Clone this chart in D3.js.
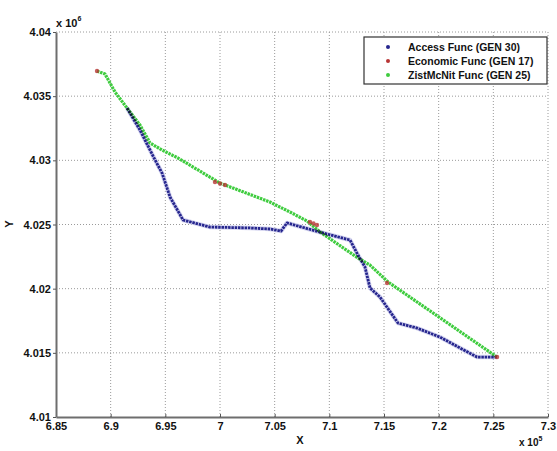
<!DOCTYPE html>
<html>
<head>
<meta charset="utf-8">
<script src="https://cdn.jsdelivr.net/npm/d3@7/dist/d3.min.js"></script>
<style>
  body { margin: 0; background: #fff; }
  text { font-family: Arial, "Liberation Sans", sans-serif; }
</style>
</head>
<body>
<div id="chart"></div>
<script>
var xTicks = [6.85, 6.9, 6.95, 7, 7.05, 7.1, 7.15, 7.2, 7.25, 7.3],
    yTicks = [4.01, 4.015, 4.02, 4.025, 4.03, 4.035, 4.04];

// x in units of 1e5, y in units of 1e6
var accessX = [6.9149, 6.9268, 6.9406, 6.9470, 6.9543, 6.9662, 6.9909, 7.0274, 7.0457, 7.0558, 7.0613,
               7.0942, 7.1189, 7.1262, 7.1326, 7.1372, 7.1463, 7.1628, 7.1802, 7.2012, 7.2195, 7.2351, 7.2534],
    accessY = [4.03408, 4.03236, 4.03003, 4.02901, 4.02714, 4.02535, 4.02480, 4.02473, 4.02465, 4.02449, 4.02512,
               4.02434, 4.02379, 4.02262, 4.02169, 4.02005, 4.01935, 4.01732, 4.01693, 4.01623, 4.01538, 4.01467, 4.01467];

var economicX = [6.8875, 6.9954, 7.0000, 7.0046, 7.0823, 7.0855, 7.0887, 7.1528, 7.2534],
    economicY = [4.03696, 4.02831, 4.02820, 4.02808, 4.02519, 4.02508, 4.02496, 4.02044, 4.01467];

var zistX = [6.8875, 6.8948, 6.9040, 6.9149, 6.9268, 6.9360, 6.9470, 6.9616, 6.9999, 7.0457, 7.0640,
             7.0796, 7.0915, 7.1262, 7.1372, 7.1537, 7.2534],
    zistY = [4.03696, 4.03673, 4.03532, 4.03408, 4.03275, 4.03135, 4.03080, 4.03018, 4.02823, 4.02675, 4.02597,
             4.02527, 4.02442, 4.02239, 4.02184, 4.02052, 4.01467];

var seriesNames = ['Access Func (GEN 30)', 'Economic Func (GEN 17)', 'ZistMcNit Func (GEN 25)'],
    seriesColors = ['#26268e', '#b83434', '#3fcc3f'];

var W = 557, H = 451,
    margin = { top: 32, right: 9, bottom: 34, left: 56 },
    width = W - margin.left - margin.right,
    height = H - margin.top - margin.bottom;

var svg = d3.select('#chart')
            .append('svg')
            .attr('width', W)
            .attr('height', H);

var x = d3.scaleLinear().domain([6.85, 7.3]).range([0, width]),
    y = d3.scaleLinear().domain([4.01, 4.04]).range([height, 0]);

var g = svg.append('g')
           .attr('transform', 'translate(' + margin.left + ',' + margin.top + ')');

// grid
g.append('g')
  .selectAll('line')
  .data(xTicks.slice(1))
  .enter()
    .append('line')
    .attr('x1', function(d) { return x(d); })
    .attr('x2', function(d) { return x(d); })
    .attr('y1', 0)
    .attr('y2', height)
    .attr('stroke', '#9a9a9a')
    .attr('stroke-width', 1)
    .attr('stroke-dasharray', '1,2');

g.append('g')
  .selectAll('line')
  .data(yTicks.slice(1))
  .enter()
    .append('line')
    .attr('x1', 0)
    .attr('x2', width)
    .attr('y1', function(d) { return y(d); })
    .attr('y2', function(d) { return y(d); })
    .attr('stroke', '#9a9a9a')
    .attr('stroke-width', 1)
    .attr('stroke-dasharray', '1,2');

// axes
var fmt = d3.format('~g');

var xAxis = g.append('g')
  .attr('transform', 'translate(0,' + height + ')')
  .call(d3.axisBottom(x).tickValues(xTicks).tickFormat(fmt).tickSizeInner(-3).tickSizeOuter(0).tickPadding(5));

var yAxis = g.append('g')
  .call(d3.axisLeft(y).tickValues(yTicks).tickFormat(fmt).tickSizeInner(3).tickSizeOuter(0).tickPadding(2));

[xAxis, yAxis].forEach(function(a) {
  a.select('.domain').attr('stroke', '#6e6e6e').attr('stroke-width', 2);
  a.selectAll('.tick line').attr('stroke', '#555');
  a.selectAll('.tick text')
   .attr('fill', '#111')
   .style('font-size', '11px')
   .style('font-weight', 'bold');
});

// multiplier labels
var top10 = svg.append('text')
  .attr('x', 56)
  .attr('y', 27)
  .attr('fill', '#111')
  .style('font-size', '11px')
  .style('font-weight', 'bold');
top10.append('tspan').text('x 10');
top10.append('tspan').attr('dy', -6).style('font-size', '7px').text('6');

var bot10 = svg.append('text')
  .attr('x', 519)
  .attr('y', 446)
  .attr('fill', '#111')
  .style('font-size', '10px')
  .style('font-weight', 'bold');
bot10.append('tspan').text('x 10');
bot10.append('tspan').attr('dy', -5).style('font-size', '7px').text('5');

// axis titles
svg.append('text')
  .attr('x', 300)
  .attr('y', 444)
  .attr('text-anchor', 'middle')
  .attr('fill', '#111')
  .style('font-size', '11px')
  .style('font-weight', 'bold')
  .text('X');

svg.append('text')
  .attr('transform', 'translate(13,224) rotate(-90)')
  .attr('text-anchor', 'middle')
  .attr('fill', '#111')
  .style('font-size', '11px')
  .style('font-weight', 'bold')
  .text('Y');

// series
var line = d3.line()
             .x(function(d) { return x(d[0]); })
             .y(function(d) { return y(d[1]); });

var access = d3.zip(accessX, accessY),
    economic = d3.zip(economicX, economicY),
    zist = d3.zip(zistX, zistY);

var plot = g.append('g').style('isolation', 'isolate');

plot.append('path')
  .datum(access)
  .attr('d', line)
  .attr('fill', 'none')
  .attr('stroke', '#d6d6f0')
  .attr('stroke-width', 4.5)
  .attr('stroke-linejoin', 'round');

plot.append('path')
  .datum(access)
  .attr('d', line)
  .attr('fill', 'none')
  .attr('stroke', seriesColors[0])
  .attr('stroke-width', 2.8)
  .attr('stroke-dasharray', '2.5,0.8')
  .attr('stroke-linejoin', 'round');

plot.append('path')
  .datum(zist)
  .attr('d', line)
  .attr('fill', 'none')
  .attr('stroke', seriesColors[2])
  .attr('stroke-width', 3.2)
  .attr('stroke-dasharray', '2.5,0.8')
  .attr('stroke-linejoin', 'round')
  .style('mix-blend-mode', 'multiply');

plot.selectAll('.eco')
  .data(economic)
  .enter()
    .append('circle')
    .attr('class', 'eco')
    .attr('cx', function(d) { return x(d[0]); })
    .attr('cy', function(d) { return y(d[1]); })
    .attr('r', 2.2)
    .attr('fill', seriesColors[1])
    .attr('opacity', 0.8);

// legend
var legend = svg.append('g').attr('transform', 'translate(364,37)');

legend.append('rect')
  .attr('width', 183)
  .attr('height', 47)
  .attr('fill', '#fff')
  .attr('stroke', '#333')
  .attr('stroke-width', 1.2);

var items = legend.selectAll('.item')
  .data(seriesNames)
  .enter()
    .append('g')
    .attr('class', 'item')
    .attr('transform', function(d, i) { return 'translate(0,' + (10 + i * 14) + ')'; });

items.append('circle')
  .attr('cx', 24)
  .attr('cy', 0)
  .attr('r', 2)
  .attr('fill', function(d, i) { return seriesColors[i]; });

items.append('text')
  .attr('x', 44)
  .attr('y', 4)
  .attr('fill', '#111')
  .style('font-size', '10.5px')
  .style('font-weight', 'bold')
  .text(function(d) { return d; });
</script>
</body>
</html>
